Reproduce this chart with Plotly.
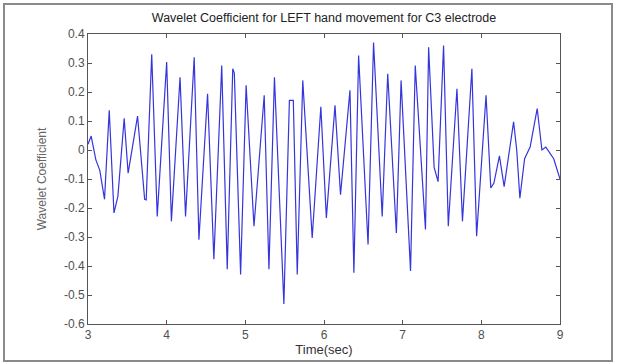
import plotly.graph_objects as go

# Time (sec) of the traced samples (peaks/troughs and a few intermediate points)
time_sec = [3.00, 3.04, 3.10, 3.15, 3.21, 3.27, 3.33, 3.38, 3.46, 3.51,
            3.63, 3.72, 3.74, 3.81, 3.88, 4.00, 4.06, 4.17, 4.24, 4.35,
            4.41, 4.52, 4.60, 4.70, 4.77, 4.84, 4.86, 4.94, 5.01, 5.11,
            5.24, 5.30, 5.37, 5.49, 5.56, 5.61, 5.66, 5.73, 5.85, 5.96,
            6.03, 6.14, 6.21, 6.33, 6.38, 6.44, 6.56, 6.63, 6.74, 6.81,
            6.92, 6.98, 7.10, 7.16, 7.29, 7.33, 7.40, 7.45, 7.52, 7.58,
            7.69, 7.76, 7.88, 7.94, 8.06, 8.12, 8.16, 8.23, 8.29, 8.41,
            8.45, 8.49, 8.55, 8.62, 8.71, 8.77, 8.82, 8.92, 9.00]

# Wavelet coefficient values
coefficient = [0.020, 0.048, -0.034, -0.070, -0.170, 0.137, -0.217, -0.160, 0.109, -0.080,
               0.117, -0.170, -0.172, 0.330, -0.229, 0.303, -0.246, 0.251, -0.229, 0.320,
               -0.309, 0.194, -0.377, 0.291, -0.411, 0.280, 0.265, -0.429, 0.223, -0.263,
               0.189, -0.411, 0.251, -0.531, 0.171, 0.171, -0.429, 0.240, -0.303, 0.149,
               -0.234, 0.154, -0.154, 0.206, -0.423, 0.326, -0.326, 0.371, -0.229, 0.263,
               -0.286, 0.240, -0.417, 0.291, -0.274, 0.354, -0.060, -0.109, 0.360, -0.263,
               0.211, -0.246, 0.280, -0.297, 0.189, -0.131, -0.114, -0.020, -0.126, 0.097,
               0.000, -0.166, -0.030, 0.010, 0.143, 0.000, 0.010, -0.030, -0.100]

x_ticks = [3, 4, 5, 6, 7, 8, 9]
y_ticks = [0.4, 0.3, 0.2, 0.1, 0, -0.1, -0.2, -0.3, -0.4, -0.5, -0.6]
y_tick_labels = ["0.4", "0.3", "0.2", "0.1", "0", "-0.1", "-0.2", "-0.3", "-0.4", "-0.5", "-0.6"]

fig = go.Figure()
fig.add_trace(go.Scatter(x=time_sec, y=coefficient, mode="lines",
                         line=dict(color="#3535dc", width=1.2),
                         hoverinfo="x+y", showlegend=False))

font = "Liberation Sans, Arial, sans-serif"
axis_common = dict(showgrid=False, zeroline=False, showline=True, linecolor="#555555",
                   linewidth=1, mirror="ticks", ticks="inside", ticklen=4,
                   tickcolor="#555555", automargin=False,
                   tickfont=dict(family=font, size=12, color="#505050"))

fig.update_layout(
    width=617, height=364,
    margin=dict(l=88, r=57, t=34, b=40),
    paper_bgcolor="white", plot_bgcolor="white",
    title=dict(text="Wavelet Coefficient for LEFT hand movement for C3 electrode",
               x=(88 + 560) / 2 / 617, xanchor="center",
               y=1 - 18 / 364, yanchor="middle", automargin=False,
               font=dict(family=font, size=12.5, color="#222222")),
    xaxis=dict(range=[3, 9], tickvals=x_ticks, ticktext=[str(v) for v in x_ticks],
               title=dict(text="Time(sec)", standoff=1,
                          font=dict(family=font, size=13, color="#333333")),
               **axis_common),
    yaxis=dict(range=[-0.6, 0.4], tickvals=y_ticks, ticktext=y_tick_labels,
               title=dict(text="Wavelet Coefficient", standoff=14,
                          font=dict(family=font, size=12, color="#666666")),
               **axis_common),
    shapes=[dict(type="rect", xref="paper", yref="paper",
                 x0=(4 - 88) / 472, x1=(612 - 88) / 472,
                 y0=(324 - 361) / 290, y1=(324 - 4) / 290,
                 line=dict(color="#8a8a8a", width=2), fillcolor="rgba(0,0,0,0)",
                 layer="below")],
)

fig.write_html("out.html", config={"displayModeBar": False},
               post_script="document.body.style.margin='0';document.body.style.padding='0';")
